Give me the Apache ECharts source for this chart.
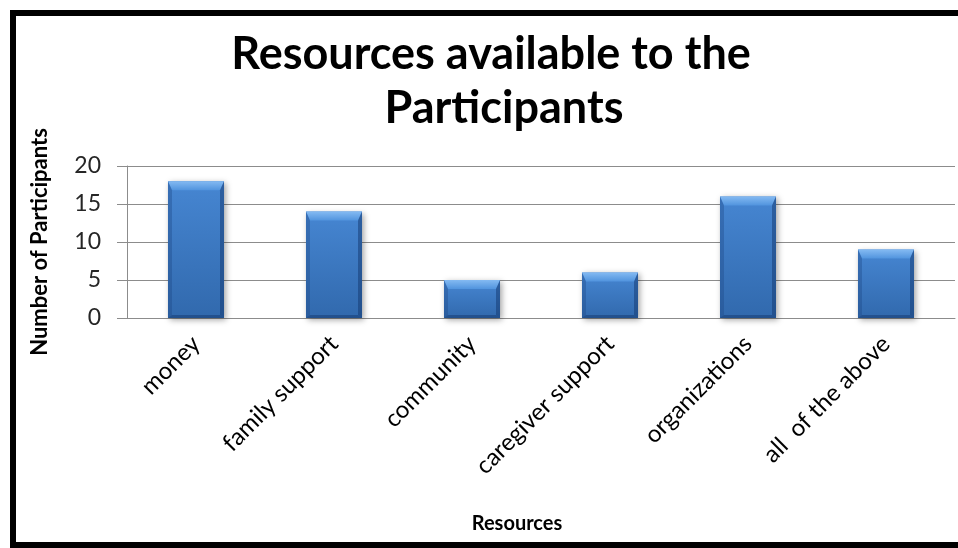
<!DOCTYPE html>
<html>
<head>
<meta charset="utf-8">
<script src="https://cdn.jsdelivr.net/npm/echarts@6/dist/echarts.min.js"></script>
<style>
  html, body { margin: 0; padding: 0; background: #fff; }
  #chart { width: 958px; height: 548px; }
</style>
</head>
<body>
<div id="chart"></div>
<script>
// Resource categories and participant counts
const categories = ['money', 'family support', 'community', 'caregiver support', 'organizations', 'all  of the above'];
const participants = [18, 14, 5, 6, 16, 9];
const yTicks = [0, 5, 10, 15, 20];
const titleLines = ['Resources available to the', 'Participants'];

const FONT = 'Lato, "Open Sans", sans-serif';
const chart = echarts.init(document.getElementById('chart'));

// Bevel overlay drawn on top of each bar, positioned through the axis scales
function bevel(params, api) {
  const i = api.value(0);
  const v = api.value(1);
  const top = api.coord([i, v]);
  const base = api.coord([i, 0]);
  const w = api.size([1, 0])[0] * 0.406;
  const x0 = top[0] - w / 2, x1 = top[0] + w / 2;
  const y0 = top[1], y1 = base[1];
  const b = 9, s = 4;
  return {
    type: 'group',
    children: [
      { type: 'polygon', shape: { points: [[x0, y0], [x1, y0], [x1 - s, y0 + b], [x0 + s, y0 + b]] },
        style: { fill: new echarts.graphic.LinearGradient(0, 0, 0, 1, [{ offset: 0, color: '#84baf2' }, { offset: 1, color: '#5194de' }]) } },
      { type: 'polygon', shape: { points: [[x0, y0], [x0 + s, y0 + b], [x0 + s, y1 - 3], [x0, y1]] },
        style: { fill: 'rgba(30,70,130,0.35)' } },
      { type: 'polygon', shape: { points: [[x1, y0], [x1 - s, y0 + b], [x1 - s, y1 - 3], [x1, y1]] },
        style: { fill: 'rgba(20,55,110,0.5)' } },
      { type: 'polygon', shape: { points: [[x0, y1], [x0 + s, y1 - 3], [x1 - s, y1 - 3], [x1, y1]] },
        style: { fill: 'rgba(20,55,110,0.5)' } }
    ]
  };
}

chart.setOption({
  animation: false,
  backgroundColor: '#fff',
  grid: { left: 127, right: 3, top: 166, bottom: 230, containLabel: false },
  xAxis: {
    type: 'category',
    data: categories,
    axisLine: { lineStyle: { color: '#8c8c8c', width: 1 } },
    axisTick: { show: false },
    axisLabel: { rotate: 45, fontFamily: FONT, fontSize: 24, color: '#000', margin: 22, interval: 0 }
  },
  yAxis: {
    type: 'value',
    min: 0, max: 20, interval: 5,
    name: 'Number of Participants',
    nameLocation: 'middle',
    nameGap: 76,
    nameTextStyle: { fontFamily: FONT, fontWeight: 'bold', fontSize: 22, color: '#000' },
    axisLine: { show: true, lineStyle: { color: '#8c8c8c' } },
    axisTick: { show: true, length: 10, lineStyle: { color: '#8c8c8c' } },
    axisLabel: {
      fontFamily: FONT, fontSize: 23, color: '#262626', margin: 26,
      formatter: v => (yTicks.includes(v) ? String(v) : '')
    },
    splitLine: { lineStyle: { color: '#8c8c8c', width: 1 } }
  },
  graphic: [
    { type: 'rect', z: 100, silent: true,
      shape: { x: 13, y: 13, width: 960, height: 532 },
      style: { fill: 'none', stroke: '#000', lineWidth: 6 } },
    { type: 'text', z: 100, x: 491, y: 54,
      style: { text: titleLines[0], fontFamily: FONT, fontWeight: 'bold', fontSize: 45, fill: '#000', align: 'center', verticalAlign: 'middle' } },
    { type: 'text', z: 100, x: 504, y: 108,
      style: { text: titleLines[1], fontFamily: FONT, fontWeight: 'bold', fontSize: 45, fill: '#000', align: 'center', verticalAlign: 'middle' } },
    { type: 'text', z: 100, x: 517, y: 524,
      style: { text: 'Resources', fontFamily: FONT, fontWeight: 'bold', fontSize: 20, fill: '#000', align: 'center', verticalAlign: 'middle' } }
  ],
  series: [
    {
      type: 'bar',
      data: participants,
      barWidth: '40.6%',
      itemStyle: {
        color: new echarts.graphic.LinearGradient(0, 0, 0, 1, [
          { offset: 0, color: '#4686d2' },
          { offset: 1, color: '#3169ad' }
        ]),
        shadowColor: 'rgba(0,0,0,0.35)', shadowBlur: 6, shadowOffsetX: 2, shadowOffsetY: 2
      }
    },
    {
      type: 'custom',
      renderItem: bevel,
      data: participants.map((v, i) => [i, v]),
      z: 3,
      silent: true
    }
  ]
});
</script>
</body>
</html>
